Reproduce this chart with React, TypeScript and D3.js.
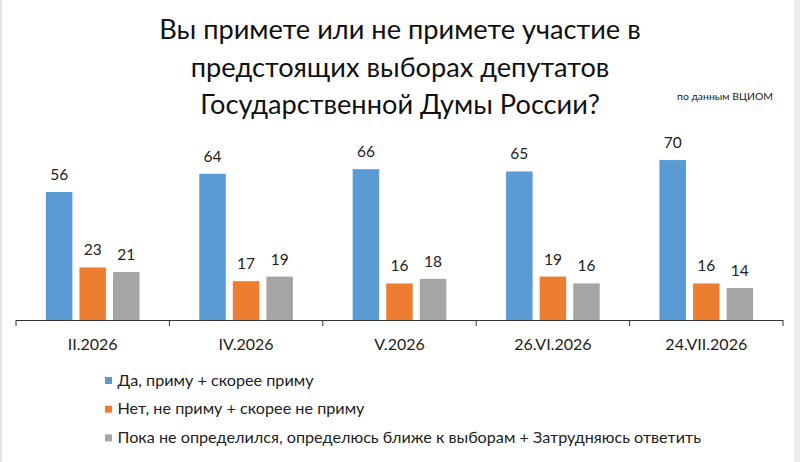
import React from "react";
import * as d3 from "d3";

const categories = ["II.2026", "IV.2026", "V.2026", "26.VI.2026", "24.VII.2026"];
const seriesNames = [
  "Да, приму + скорее приму",
  "Нет, не приму + скорее не приму",
  "Пока не определился, определюсь ближе к выборам + Затрудняюсь ответить",
];
const yesValues = [56, 64, 66, 65, 70];
const noValues = [23, 17, 16, 19, 16];
const undecidedValues = [21, 19, 18, 16, 14];
const colors = ["#5b9bd5", "#ed7d31", "#a5a5a5"];
const titleLines = [
  "Вы примете или не примете участие в",
  "предстоящих выборах депутатов",
  "Государственной Думы России?",
];
const sourceNote = "по данным ВЦИОМ";

const W = 800;
const H = 462;
const FONT = "Lato, 'Open Sans', sans-serif";

export default function App() {
  const series = [yesValues, noValues, undecidedValues];
  const x0 = d3.scaleBand<string>().domain(categories).range([16, 783]).paddingInner(0).paddingOuter(0);
  const x1 = d3
    .scaleBand<number>()
    .domain([0, 1, 2])
    .range([0, x0.bandwidth()])
    .paddingInner(0.21)
    .paddingOuter(0.89);
  const y = d3.scaleLinear().domain([0, 80]).range([320, 137.2]);

  const ticks = categories.map((c) => x0(c)!).concat([x0.range()[1]]);

  return (
    <svg
      width={W}
      height={H}
      style={{ position: "absolute", left: 0, top: 0, background: "#fff" }}
      fontFamily={FONT}
    >
      <rect x={0} y={0} width={W} height={H} fill="#fff" />
      <rect x={0} y={0} width={2} height={H} fill="#e4e4e4" />
      <rect x={794} y={0} width={6} height={H} fill="#ececec" />
      <g textAnchor="middle" fontSize={27.2} fill="#111">
        {titleLines.map((t, i) => (
          <text key={i} x={400} y={39 + i * 37.5}>
            {t}
          </text>
        ))}
      </g>
      <text x={725} y={100} fontSize={10.4} textAnchor="middle" fill="#222">
        {sourceNote}
      </text>
      {series.map((vals, si) =>
        vals.map((v, ci) => {
          const bx = x0(categories[ci])! + x1(si)!;
          return (
            <g key={`${si}-${ci}`}>
              <rect x={bx} y={y(v)} width={x1.bandwidth()} height={y(0) - y(v)} fill={colors[si]} />
              <text
                x={bx + x1.bandwidth() / 2}
                y={y(v) - 12}
                textAnchor="middle"
                fontSize={15.5}
                fill="#222"
              >
                {v}
              </text>
            </g>
          );
        })
      )}
      <line x1={16} x2={783} y1={320.5} y2={320.5} stroke="#333" strokeWidth={1} />
      {ticks.map((t, i) => (
        <line key={i} x1={t} x2={t} y1={320} y2={326} stroke="#333" strokeWidth={1} />
      ))}
      {categories.map((c) => (
        <text key={c} x={x0(c)! + x0.bandwidth() / 2} y={350} textAnchor="middle" fontSize={16} fill="#222">
          {c}
        </text>
      ))}
      {seriesNames.map((n, i) => (
        <g key={n}>
          <rect x={105} y={377 + i * 28.7} width={7} height={7} fill={colors[i]} />
          <text x={117.5} y={385.5 + i * 28.7} fontSize={16.2} fill="#222">
            {n}
          </text>
        </g>
      ))}
    </svg>
  );
}
